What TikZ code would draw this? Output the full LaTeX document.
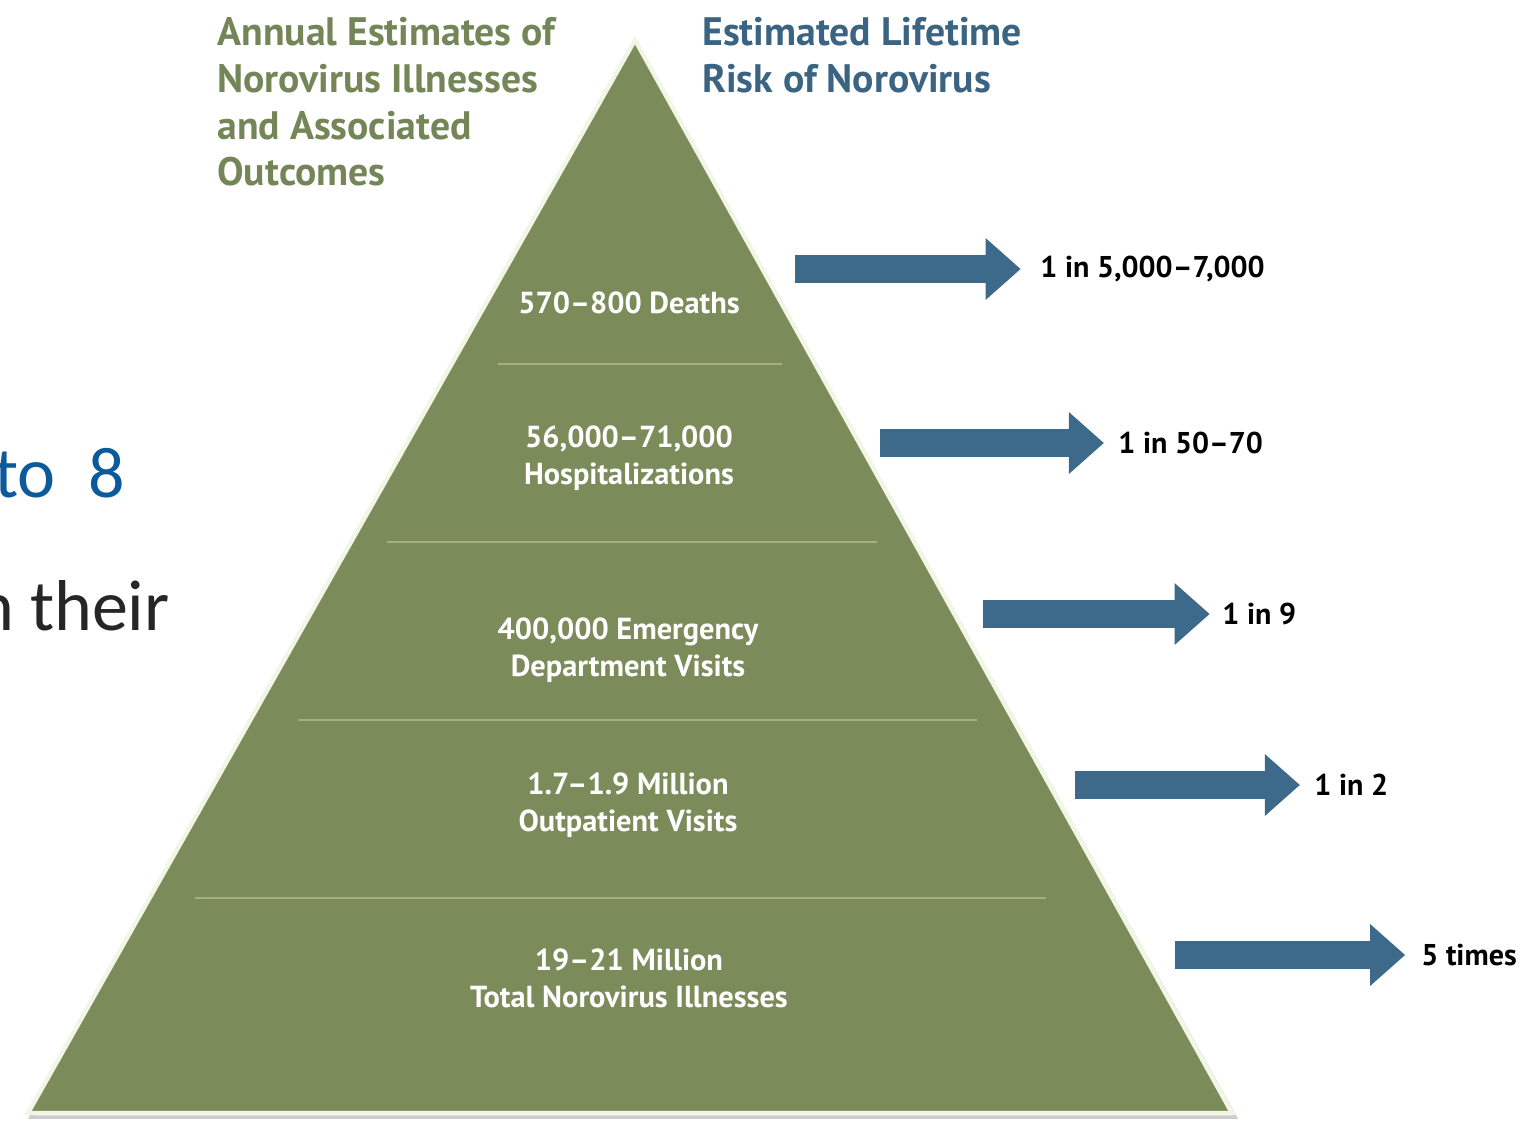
\documentclass[tikz,border=0pt]{standalone}
\usepackage{fontspec}
\setmainfont{PT Sans}
\newfontfamily\slidefont{Carlito}
\usepackage{xcolor}
\usetikzlibrary{arrows.meta, positioning, calc}

\definecolor{pyrgreen}{HTML}{7B8B5A}
\definecolor{pyrline}{HTML}{A4AE7E}
\definecolor{pyredge}{HTML}{F3F5E6}
\definecolor{riskblue}{HTML}{3D6A8A}
\definecolor{headgreen}{HTML}{748657}
\definecolor{headblue}{HTML}{3A6482}
\definecolor{slideblue}{HTML}{0B5A9C}
\definecolor{slidegray}{HTML}{262626}

\tikzset{
  tier/.style={align=center, text=white, font=\bfseries\fontsize{17.3}{21}\selectfont},
  risk/.style={anchor=west, text=black, font=\bfseries\fontsize{17.1}{20}\selectfont, inner sep=0pt},
  heading/.style={anchor=north west, align=left, inner sep=0pt, font=\bfseries\fontsize{22.6}{26.6}\selectfont},
  riskarrow/.style={riskblue, line width=15.9pt, -{Triangle[length=20pt, width=34pt]}},
  divider/.style={pyrline, line width=1.2pt}
}

\begin{document}
\begin{tikzpicture}[x=0.02cm, y=-0.02cm]
    \useasboundingbox (0,0) rectangle (1527,1136);

    % Piramide
    \draw[gray!40, line width=2pt] (637,44) -- (31,1117) -- (1235,1117) -- cycle;
    \draw[fill=pyrgreen, draw=pyredge, line width=2.5pt] (635,40) -- (28,1113) -- (1232,1113) -- cycle;

    % Lineas divisorias
    \draw[divider] (498,364) -- (782,364);
    \draw[divider] (387,542) -- (877,542);
    \draw[divider] (298,720) -- (977,720);
    \draw[divider] (195,898) -- (1046,898);

    % Textos de la piramide
    \node[tier] (deaths) at (629,303) {570--800 Deaths};
    \node[tier] (hosp) at (629,458) {56,000--71,000\\Hospitalizations};
    \node[tier] (ed) at (628,650) {400,000 Emergency\\Department Visits};
    \node[tier] (outp) at (628,805) {1.7--1.9 Million\\Outpatient Visits};
    \node[tier] (total) at (629,978) {19--21 Million\\Total Norovirus Illnesses};

    % Encabezados
    \node[heading, text=headgreen] (annual) at (217,17) {Annual Estimates of\\Norovirus Illnesses\\and Associated\\Outcomes};
    \node[heading, text=headblue] (lifetime) at (702,17) {Estimated Lifetime\\Risk of Norovirus};

    % Riesgos
    \node[risk] (r1) at (1040,269) {1 in 5,000--7,000};
    \node[risk] (r2) at (1118,443) {1 in 50--70};
    \node[risk] (r3) at (1222,614) {1 in 9};
    \node[risk] (r4) at (1314,785) {1 in 2};
    \node[risk] (r5) at (1421,955) {5 times};

    \coordinate (a1) at (795,269);
    \coordinate (a2) at (880,443);
    \coordinate (a3) at (983,614);
    \coordinate (a4) at (1075,785);
    \coordinate (a5) at (1175,955);

    % Flechas
    \draw[riskarrow] (a1) -- ([xshift=-11pt]r1.west);
    \draw[riskarrow] (a2) -- ([xshift=-8pt]r2.west);
    \draw[riskarrow] (a3) -- ([xshift=-7pt]r3.west);
    \draw[riskarrow] (a4) -- ([xshift=-8pt]r4.west);
    \draw[riskarrow] (a5) -- ([xshift=-9pt]r5.west);

    % Texto de la diapositiva
    \node[anchor=base east, inner sep=0pt, text=slideblue, font=\slidefont\fontsize{41}{41}\selectfont] (slide1) at (125,497) {to\ \ 8};
    \node[anchor=base east, inner sep=0pt, text=slidegray, font=\slidefont\fontsize{41}{41}\selectfont] (slide2) at (170,630) {n their};
\end{tikzpicture}
\end{document}
